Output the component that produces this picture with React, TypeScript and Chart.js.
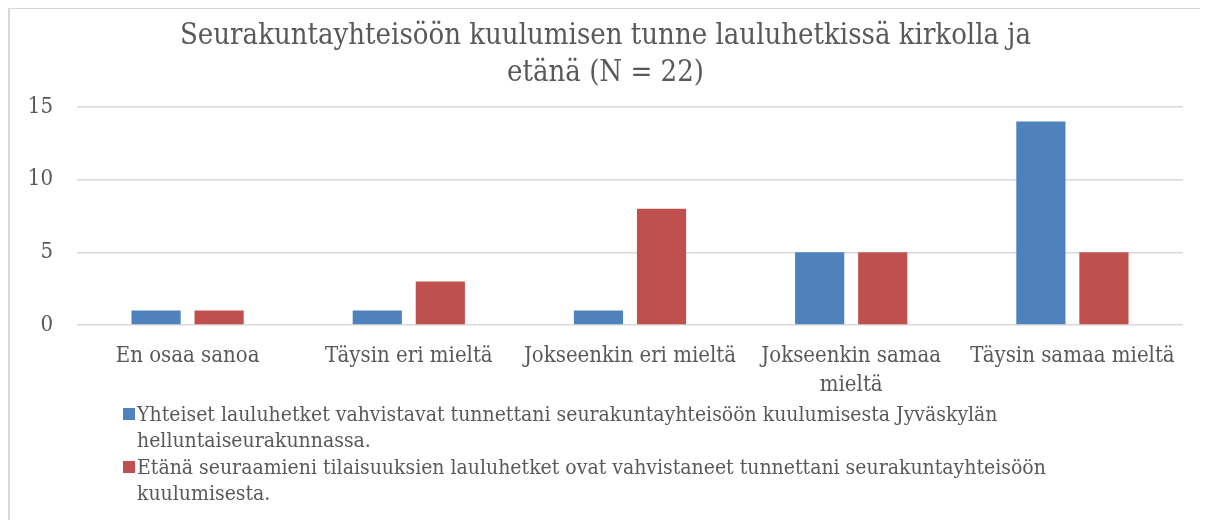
import React, { useEffect, useRef } from 'react';
import { Chart, registerables } from 'chart.js';

Chart.register(...registerables);

const titleLines = ['Seurakuntayhteisöön kuulumisen tunne lauluhetkissä kirkolla ja', 'etänä (N = 22)'];
const categories: (string | string[])[] = [
  'En osaa sanoa',
  'Täysin eri mieltä',
  'Jokseenkin eri mieltä',
  ['Jokseenkin samaa', 'mieltä'],
  'Täysin samaa mieltä',
];
const churchValues = [1, 1, 1, 5, 14];
const remoteValues = [1, 3, 8, 5, 5];
const churchLegend = [
  'Yhteiset lauluhetket vahvistavat tunnettani seurakuntayhteisöön kuulumisesta Jyväskylän',
  'helluntaiseurakunnassa.',
];
const remoteLegend = [
  'Etänä seuraamieni tilaisuuksien lauluhetket ovat vahvistaneet tunnettani seurakuntayhteisöön',
  'kuulumisesta.',
];
const yMin = 0;
const yMax = 15;
const yStep = 5;

const BLUE = '#4f81bd';
const RED = '#c0504d';
const TEXT = '#595959';
const GRID = '#d9d9d9';
const SERIF = '"DejaVu Serif Condensed", "DejaVu Serif", serif';

const W = 1200;
const H = 513;

export default function App() {
  const ref = useRef<HTMLCanvasElement | null>(null);

  useEffect(() => {
    if (!ref.current) return;
    const chart = new Chart(ref.current, {
      type: 'bar',
      data: {
        labels: categories as any,
        datasets: [
          {
            label: churchLegend.join(' '),
            data: churchValues,
            backgroundColor: BLUE,
            borderWidth: 0,
            categoryPercentage: 0.57,
            barPercentage: 0.78,
          },
          {
            label: remoteLegend.join(' '),
            data: remoteValues,
            backgroundColor: RED,
            borderWidth: 0,
            categoryPercentage: 0.57,
            barPercentage: 0.78,
          },
        ],
      },
      options: {
        responsive: false,
        maintainAspectRatio: false,
        animation: false,
        layout: { padding: { left: 20, right: 25, top: 0, bottom: 0 } },
        plugins: {
          legend: { display: false },
          tooltip: { enabled: false },
          title: {
            display: true,
            text: titleLines,
            color: TEXT,
            font: { family: SERIF, size: 29, weight: 'normal', lineHeight: 1.276 },
            padding: { top: 11, bottom: 15 },
          },
        },
        scales: {
          x: {
            grid: { display: false, drawTicks: false },
            border: { display: false },
            ticks: {
              color: TEXT,
              font: { family: SERIF, size: 22, lineHeight: 1.32 },
              padding: 17,
              maxRotation: 0,
              autoSkip: false,
            },
            afterFit: (scale: any) => {
              scale.height = H - 318;
            },
          },
          y: {
            min: yMin,
            max: yMax,
            grid: { color: GRID, lineWidth: 1.5, drawTicks: false },
            border: { display: false },
            ticks: {
              stepSize: yStep,
              color: TEXT,
              font: { family: SERIF, size: 22 },
              padding: 24,
            },
            afterFit: (scale: any) => {
              scale.width = 49;
            },
          },
        },
      },
    });
    return () => chart.destroy();
  }, []);

  const legendItems = [
    { color: BLUE, lines: churchLegend, top: 394, markerTop: 401 },
    { color: RED, lines: remoteLegend, top: 447, markerTop: 454 },
  ];

  return (
    <div style={{ position: 'relative', width: W, height: H, marginTop: -1 }}>
      <canvas ref={ref} width={W} height={H} style={{ position: 'absolute', left: 0, top: 0, width: W, height: H }} />
      <div
        style={{
          position: 'absolute',
          left: 0,
          top: 0,
          width: W,
          height: H,
          borderTop: `2px solid ${GRID}`,
          borderLeft: `2px solid ${GRID}`,
          boxSizing: 'border-box',
          pointerEvents: 'none',
        }}
      />
      {legendItems.map((item, i) => (
        <React.Fragment key={i}>
          <div
            style={{
              position: 'absolute',
              left: 115,
              top: item.markerTop,
              width: 12,
              height: 12,
              background: item.color,
            }}
          />
          <div
            style={{
              position: 'absolute',
              left: 129,
              top: item.top,
              fontFamily: SERIF,
              fontSize: 21,
              lineHeight: '26px',
              color: TEXT,
              whiteSpace: 'nowrap',
            }}
          >
            {item.lines.map((l, j) => (
              <div key={j}>{l}</div>
            ))}
          </div>
        </React.Fragment>
      ))}
    </div>
  );
}
